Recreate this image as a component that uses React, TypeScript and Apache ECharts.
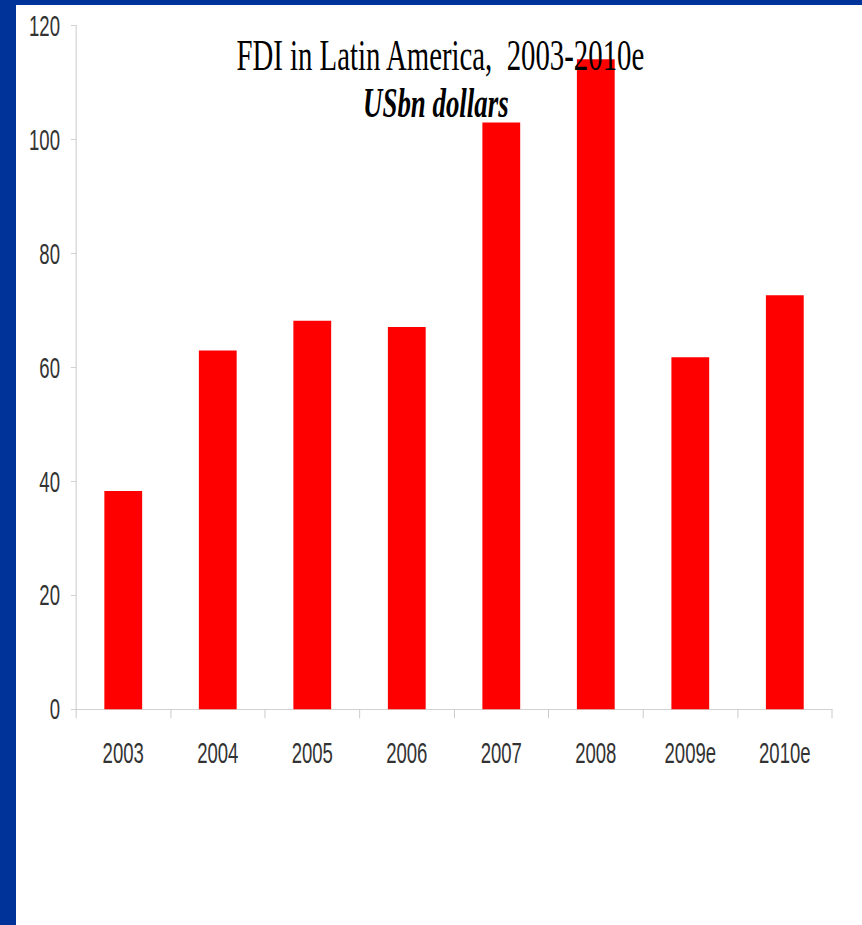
import React, { useEffect, useRef } from "react";
import * as echarts from "echarts";

const categories = ["2003", "2004", "2005", "2006", "2007", "2008", "2009e", "2010e"];
const fdiValues = [38.3, 63.0, 68.2, 67.1, 103.0, 114.1, 61.8, 72.7];
const titleText = "FDI in Latin America,  2003-2010e";
const subtitleText = "USbn dollars";

const SX = 0.64;
const PANEL_W = 846;
const PANEL_H = 920;
const CHART_W = PANEL_W / SX;

export default function App() {
  const ref = useRef<HTMLDivElement>(null);
  useEffect(() => {
    if (!ref.current) return;
    const chart = echarts.init(ref.current, undefined, { renderer: "svg" });
    const axisGray = "#c8c8c8";
    chart.setOption({
      animation: false,
      backgroundColor: "#ffffff",
      grid: { left: 93.75, right: 46.9, top: 20.7, bottom: 215.7, containLabel: false },
      xAxis: {
        type: "category",
        data: categories,
        axisLine: { show: true, lineStyle: { color: axisGray, width: 1 } },
        axisTick: { show: true, length: 9, alignWithLabel: false, lineStyle: { color: axisGray, width: 1.5 } },
        axisLabel: { fontFamily: "Liberation Sans", fontSize: 29, color: "#333", margin: 29 },
        splitLine: { show: false },
      },
      yAxis: {
        type: "value",
        min: 0,
        max: 120,
        interval: 20,
        axisLine: { show: true, lineStyle: { color: axisGray, width: 1.5 } },
        axisTick: { show: true, length: 8, lineStyle: { color: axisGray, width: 1 } },
        axisLabel: { fontFamily: "Liberation Sans", fontSize: 29, color: "#333", margin: 25 },
        splitLine: { show: false },
      },
      series: [
        {
          type: "bar",
          data: fdiValues,
          barWidth: "40%",
          itemStyle: { color: "#ff0000" },
          z: 2,
        },
      ],
      graphic: [
        {
          type: "text",
          x: 663,
          y: 50,
          z: 100,
          style: {
            text: titleText,
            fontFamily: "Liberation Serif",
            fontSize: 45,
            fill: "#000",
            align: "center",
            verticalAlign: "middle",
          },
        },
        {
          type: "text",
          x: 656,
          y: 98,
          z: 100,
          style: {
            text: subtitleText,
            fontFamily: "Liberation Serif",
            fontSize: 42,
            fontStyle: "italic",
            fontWeight: "bold",
            fill: "#000",
            align: "center",
            verticalAlign: "middle",
          },
        },
      ],
    });
    return () => chart.dispose();
  }, []);

  return (
    <div
      style={{
        position: "fixed",
        left: 0,
        top: 0,
        width: 862,
        height: 925,
        background: "#003399",
        overflow: "hidden",
      }}
    >
      <div
        style={{
          position: "absolute",
          left: 16,
          top: 5,
          width: PANEL_W,
          height: PANEL_H,
          background: "#ffffff",
          overflow: "hidden",
        }}
      >
        <div
          ref={ref}
          style={{
            width: CHART_W,
            height: PANEL_H,
            transform: `scaleX(${SX})`,
            transformOrigin: "0 0",
          }}
        />
      </div>
    </div>
  );
}
